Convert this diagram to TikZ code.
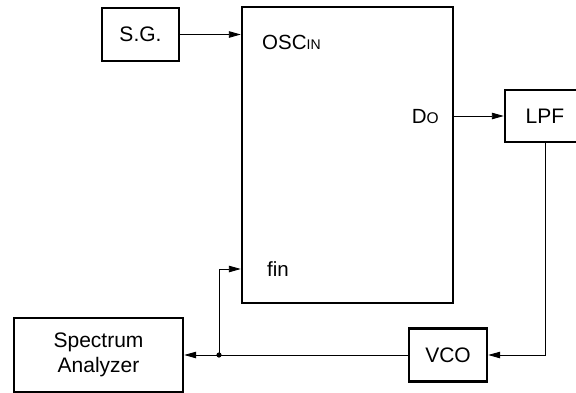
\documentclass[tikz,border=0pt]{standalone}
\usepackage{fontspec}
\setmainfont{Liberation Sans}
\usetikzlibrary{arrows.meta}
\begin{document}
\begin{tikzpicture}[x=1pt,y=-1pt,
  box/.style={draw,line width=2.4pt,inner sep=0pt,align=center,
    font=\fontsize{21}{25}\selectfont},
  conn/.style={line width=0.9pt,-{Triangle[length=12pt,width=6.5pt]}},
  wire/.style={line width=0.9pt},
  lbl/.style={inner sep=0pt,font=\fontsize{20.5}{25}\selectfont}]
\useasboundingbox (0,0) rectangle (576,392);
\node[box,minimum width=77pt,minimum height=53pt] (sg) at (140.5,34.5) {S.G.};
\node[box,minimum width=211pt,minimum height=296pt] (main) at (347.5,155) {};
\node[box,minimum width=80pt,minimum height=52pt] (lpf) at (545,116) {LPF};
\node[box,minimum width=78pt,minimum height=53pt] (vco) at (448,355) {VCO};
\node[box,minimum width=169pt,minimum height=74pt] (sa) at (98.5,355) {Spectrum\\Analyzer};
\node[lbl,anchor=west] (osc) at (262,42) {OSC{\fontsize{14}{14}\selectfont IN}};
\node[lbl,anchor=east] (do) at (439,117) {D{\fontsize{15.5}{15}\selectfont O}};
\node[lbl,anchor=west] (fin) at (267,269) {fin};
\coordinate (j) at (219,355);
\draw[conn] (sg.east) -- (sg.east -| main.west);
\draw[conn] (lpf.west -| main.east) -- (lpf.west);
\draw[conn] (lpf.south) |- (vco.east);
\draw[wire] (vco.west) -- (j);
\draw[conn] (j) -- (sa.east);
\draw[conn] (j) |- (main.west |- fin);
\fill (j) circle (2.6pt);
\end{tikzpicture}
\end{document}
